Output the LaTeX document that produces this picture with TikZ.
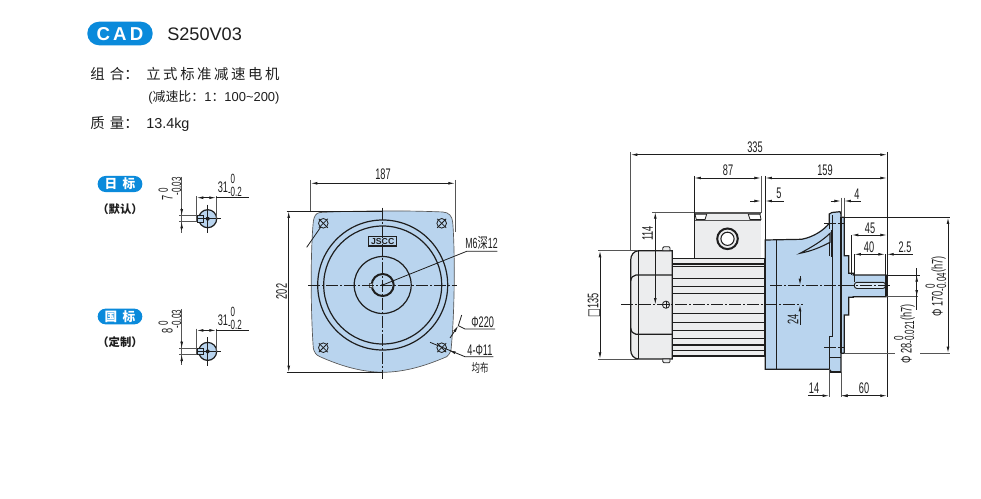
\documentclass[tikz,border=0pt]{standalone}
\usepackage{fontspec}
\usepackage{graphicx}
\usetikzlibrary{arrows.meta}
\setmainfont{Liberation Sans}
\newfontfamily\cjk[LetterSpace=18]{Noto Sans CJK SC}
\newfontfamily\cjkplain{Noto Sans CJK SC}
\newfontfamily\narrowf[FakeStretch=0.6]{Liberation Sans}
\newfontfamily\narrowcjk[FakeStretch=0.7]{Noto Sans CJK SC}
\newfontfamily\boxf[FakeStretch=0.6]{DejaVu Sans}
\newcommand\dfont{\fontsize{11.5}{12}\selectfont\narrowf}
\newcommand\tfont{\fontsize{10}{10}\selectfont\narrowf}
\newcommand\tol[4]{\raisebox{#1}{\rlap{\tfont\hspace{2pt}#3}}\raisebox{-#2}{\tfont #4}}
\definecolor{bluebadge}{HTML}{0A8ADB}
\definecolor{partblue}{HTML}{B9D4EE}
\definecolor{partgrey}{HTML}{ECEDEE}
\definecolor{ink}{HTML}{1E1E1E}
\definecolor{soft}{HTML}{555555}
\tikzset{
  lbl/.style={inner sep=0pt,font=\dfont,text=ink},
  outline/.style={draw=ink,line width=0.9pt},
  thick outline/.style={draw=ink,line width=1.1pt},
  extline/.style={draw=soft,line width=0.55pt},
  dimline/.style={draw=ink,line width=0.6pt,{Latex[length=5pt,width=2.1pt]}-{Latex[length=5pt,width=2.1pt]}},
  tipend/.style={draw=ink,line width=0.6pt,-{Latex[length=5pt,width=2.1pt]}},
  plainline/.style={draw=ink,line width=0.6pt},
  centre/.style={draw=ink,line width=0.6pt,dash pattern=on 9pt off 1.5pt on 1.5pt off 1.5pt},
  badge/.style={fill=bluebadge,rounded corners=5.8pt},
}
\begin{document}
\begin{tikzpicture}[x=0.75pt,y=-0.75pt]
\useasboundingbox (0,0) rectangle (981,499);
\fill[white] (0,0) rectangle (981,499);

% ---------- heading ----------
\fill[badge,rounded corners=8.8pt] (87.3,21.7) rectangle (152.7,45.3);
\node[inner sep=0pt,text=white,font=\fontsize{14}{15}\selectfont\bfseries] (cad) at (120,33.7) {C\,A\,D};
\node[inner sep=0pt,anchor=west,text=ink,font=\fontsize{13.6}{15}\selectfont] (model) at (167,34) {S250V03};
\node[inner sep=0pt,anchor=west,text=ink,font=\fontsize{10.8}{12}\selectfont\cjkplain] (lab1) at (90,74) {组\hspace{4pt}合：};
\node[inner sep=0pt,anchor=west,text=ink,font=\fontsize{10.8}{12}\selectfont\cjk] (val1) at (146,74) {立式标准减速电机};
\node[inner sep=0pt,anchor=base west,text=ink,font=\fontsize{9.7}{11}\selectfont] (val1b) at (148,102) {({\cjkplain 减速比：}1{\cjkplain ：}100\textasciitilde 200)};
\node[inner sep=0pt,anchor=west,text=ink,font=\fontsize{10.8}{12}\selectfont\cjkplain] (lab2) at (90,123) {质\hspace{4pt}量：};
\node[inner sep=0pt,anchor=base west,text=ink,font=\fontsize{10.8}{12}\selectfont] (val2) at (146,128.5) {13.4kg};

% ---------- badges ----------
\fill[badge] (97.7,176) rectangle (142.3,192);
\node[inner sep=0pt,text=white,font=\fontsize{9.5}{10}\selectfont\cjkplain\bfseries] (b1) at (120,184) {日\hspace{4pt}标};
\node[inner sep=0pt,text=ink,font=\fontsize{8.5}{10}\selectfont\cjkplain\bfseries] (b1a) at (120,209.5) {（默认）};
\fill[badge] (97.7,308.7) rectangle (142.3,324.3);
\node[inner sep=0pt,text=white,font=\fontsize{9.5}{10}\selectfont\cjkplain\bfseries] (b2) at (120,316.5) {国\hspace{4pt}标};
\node[inner sep=0pt,text=ink,font=\fontsize{8.5}{10}\selectfont\cjkplain\bfseries] (b2a) at (120,342.5) {（定制）};

% ---------- key views ----------
\foreach \dy/\digit/\nm in {0/7/a,132.7/8/b}{
\begin{scope}[shift={(0,\dy)}]
  \fill[partblue] (207.7,218.7) circle (9);
  \draw[outline] (207.7,218.7) circle (9);
  \fill[partblue] (197,215.7) rectangle (203,221.9);
  \draw[plainline] (197,215.7) rectangle (203,221.9);
  \fill[ink] (207.7,218.7) circle (2);
  \draw[plainline] (207.7,204.5) -- (207.7,233);
  \draw[plainline] (197,218.7) -- (221,218.7);
  \draw[extline] (196.7,196) -- (196.7,222);
  \draw[extline] (216,196) -- (216,219);
  \draw[dimline] (196.7,197.7) -- (216,197.7);
  \draw[plainline] (216,197.7) -- (249.3,197.7);
  \draw[extline] (181.7,176.7) -- (181.7,232.7);
  \draw[extline] (179,215.7) -- (197,215.7);
  \draw[extline] (179,221.7) -- (197,221.7);
  \draw[tipend] (181.7,208) -- (181.7,215.7);
  \draw[tipend] (181.7,230) -- (181.7,221.7);
  \node[lbl,anchor=base west] (w\nm) at (217.5,192.5) {31\tol{6.8pt}{3.2pt}{0}{-0.2}};
  \node[lbl,anchor=base west,rotate=90] (h\nm) at (172.5,201) {\digit\tol{3.4pt}{6.4pt}{0}{-0.03}};
\end{scope}}

% ---------- front view ----------
\draw[extline] (310.7,180) -- (310.7,212);
\draw[extline] (455,180) -- (455,232);
\path[fill=partblue,draw=soft,line width=0.5pt]
  (320,212.5) .. controls (360,210.5) and (410,210.5) .. (443,212)
  .. controls (449,212.5) and (452,216) .. (452.7,222)
  .. controls (455,250) and (455,310) .. (451,350)
  .. controls (450,353) and (449,355) .. (446.7,356.7)
  .. controls (425,366) and (405,372) .. (383,372.3)
  .. controls (361,372) and (341,366) .. (320,356.7)
  .. controls (316,355) and (314,352) .. (313.3,348)
  .. controls (310.5,310) and (310.5,250) .. (313.3,221.7)
  .. controls (314,216) and (316,213) .. (320,212.5) -- cycle;
\draw[outline] (382.7,285) circle (65);
\draw[outline] (382.7,285) circle (59);
\draw[outline] (382.7,285) circle (28.5);
\draw[draw=ink,line width=1.5pt] (382.7,285) circle (11);
\fill[partblue!80!white,draw=soft,line width=0.4pt] (369.5,283) rectangle (372,287.5);
\fill[ink] (382.7,285) circle (1.6);
\foreach \bx/\by in {323.3/223.3,441.7/223.3,323.3/347.7,441.7/347.7}{
  \draw[plainline] (\bx,\by) circle (4.8);
  \draw[plainline] (\bx-4.5,\by-4.5) -- (\bx+4.5,\by+4.5);
  \draw[plainline] (\bx-4.5,\by+4.5) -- (\bx+4.5,\by-4.5);
}
\draw[draw=ink,line width=0.8pt,fill=partblue] (368.7,236.3) rectangle (396.7,246);
\node[inner sep=0pt,text=ink,font=\fontsize{6.5}{7}\selectfont\bfseries] (logo) at (382.7,241.2) {JSCC};
\draw[centre] (308,285) -- (457,285);
\draw[centre] (382.7,207.7) -- (382.7,379);
% dims
\draw[dimline] (310.7,183.3) -- (455,183.3);
\node[lbl] (t187) at (383,174.5) {187};
\draw[draw=ink,line width=0.7pt] (286.7,211.3) -- (382,211.3);
\draw[draw=ink,line width=0.7pt] (286.7,372.3) -- (382,372.3);
\draw[dimline] (288.7,211.3) -- (288.7,372.3);
\node[lbl,rotate=90] (t202) at (281.7,291.5) {202};
% M6
\draw[plainline] (382.7,285) -- (466.7,251.3) -- (497.3,251.3);
\node[lbl,font=\fontsize{11}{12}\selectfont\narrowf] (tM6) at (481.5,243) {M6{\narrowcjk 深}12};
% phi 220
\draw[plainline] (321,226.7) -- (306.7,247.3);
\draw[plainline] (461.7,315) -- (458.3,325.7);
\draw[tipend] (450,338) -- (458.3,325.7);
\draw[plainline] (458.3,325.7) -- (465,329) -- (495,329);
\node[lbl] (t220) at (482.7,322) {Φ220};
% 4-phi11
\draw[plainline] (430,342.3) -- (465,356.7) -- (493.3,356.7);
\draw[tipend] (454,352.3) -- (449,350.3);
\node[lbl] (t11) at (480,350) {4-Φ11};
\node[inner sep=0pt,text=ink,font=\fontsize{9}{10}\selectfont\narrowcjk] (tjb) at (480,367.5) {均布};

% ---------- side view: fan cover ----------
\path[fill=partgrey,draw=ink,line width=0.9pt] (638.7,250.7) -- (672.3,250.7) -- (672.3,359) -- (638.7,359)
  .. controls (634,359) and (630.7,355) .. (630.7,350) -- (630.7,260)
  .. controls (630.7,255) and (634,250.7) .. (638.7,250.7) -- cycle;
\draw[outline] (638.7,250.7) -- (638.7,359);
\draw[outline] (672.3,275) -- (636,275) .. controls (633,275.3) and (631,277.5) .. (630.7,281);
\draw[outline] (672.3,334.3) -- (636,334.3) .. controls (633,334) and (631,331.5) .. (630.7,328);
\path[fill=partgrey,draw=ink,line width=0.6pt] (662.7,250.7) -- (662.7,248) -- (664,246.7) -- (669,246.7) -- (670,248) -- (670,250.7) -- cycle;
\path[fill=partgrey,draw=ink,line width=0.6pt] (662.7,359) -- (662.7,361.5) -- (664,362.8) -- (669,362.8) -- (670,361.5) -- (670,359) -- cycle;
% terminal box
\path[fill=partgrey] (694.3,212.5) rectangle (761,258.3);
\draw[thick outline,draw=soft] (694.3,212.8) -- (761,212.8);
\draw[plainline,line width=0.8pt] (694.3,214.3) -- (694.3,258.3);
\draw[extline] (694.3,220) -- (761,220);
\path[fill=white,draw=ink,line width=0.6pt] (695,214.3) -- (706.7,214.3) -- (705,219.5) -- (696.3,219.5) -- cycle;
\path[fill=white,draw=ink,line width=0.6pt] (748.3,214.3) -- (760,214.3) -- (761,219.5) -- (750,219.5) -- cycle;
\draw[draw=ink,line width=1.5pt] (727.5,238.8) circle (10.3);
\draw[draw=ink,line width=0.8pt,fill=white] (727.5,238.8) circle (6.6);
% motor body
\path[fill=partgrey,draw=ink,line width=0.9pt] (672.3,258.3) rectangle (765,356);
\foreach \fy in {264,266.7,278.3,286.7,293.3,313.3,322.3,330.7,338.3,345,350.7}{
  \draw[draw=ink,line width=0.85pt] (672.3,\fy) -- (765,\fy);
}
\fill[partgrey] (666,304.7) circle (3.6);
\draw[plainline] (666,301) -- (666,308.4);
\draw[plainline] (662.3,304.7) -- (669.7,304.7);
\draw[plainline] (666,304.7) circle (3.6);

% gearbox
\path[fill=partblue,draw=ink,line width=0.9pt]
  (765.3,240) -- (801.7,239.3) .. controls (813,237) and (823,231) .. (829.3,223.3)
  -- (829.3,214) -- (832,212.5) -- (840,211.7) -- (841,214) -- (841,217.3) -- (844.3,217.3) -- (844.3,255.7)
  -- (848.7,255.7) -- (848.7,273.3) -- (853.3,273.3) -- (853.3,275) -- (886,275) -- (886,296.7) -- (853.3,296.7)
  -- (853.3,297.3) -- (848.7,297.3) -- (848.7,315) -- (844.3,315) -- (844.3,353.3) -- (841,353.3) -- (841,372)
  -- (831.5,372) -- (829.3,369.3) -- (765.3,369.3) -- cycle;
\draw[draw=ink,line width=1.1pt] (776.7,240) -- (776.7,369.3);
\path[draw=ink,line width=0.8pt] (800,253.3) .. controls (812,247) and (822,241) .. (830,233.3)
  -- (830,242.3) .. controls (821,247) and (812,251) .. (800,253.3) -- cycle;
\draw[outline] (829.3,214) -- (829.3,229);
\draw[outline] (831.7,230) -- (831.7,256.7);
\draw[outline] (829.3,256) -- (829.3,243);
\draw[outline] (841,217.3) -- (841,353.3);
\draw[outline] (829.3,336.7) -- (832.3,336.7) -- (832.3,215);
\draw[outline] (830,357.3) -- (841,357.3);
\draw[outline] (829.3,336.7) -- (829.3,372);
\draw[thick outline] (829.3,372.2) -- (841,372.2);
\path[fill=partblue!60!white,draw=ink,line width=0.7pt,rounded corners=2pt] (854.3,282.3) rectangle (885.5,288.5);
\draw[draw=ink,line width=1pt] (886,275) -- (886,296.7);
% centre lines
\draw[centre,line width=0.95pt] (621,304.7) -- (803,304.7);
\draw[centre] (770,285.3) -- (891.7,285.3);
\draw[centre,line width=0.8pt] (824,223.3) -- (845,223.3);
\draw[centre,line width=0.8pt] (824,347.7) -- (845,347.7);

% ---------- side view: dimensions ----------
\draw[extline] (630.7,152) -- (630.7,251);
\draw[plainline] (887,152) -- (887,397);
\draw[dimline] (630.7,154.7) -- (887,154.7);
\node[lbl] (t335) at (755,147) {335};

\draw[plainline] (694.3,176) -- (694.3,258);
\draw[extline] (761,176) -- (761,213);
\draw[plainline,line width=0.7pt] (765.3,176) -- (765.3,240);
\draw[dimline] (694.3,178) -- (761,178);
\node[lbl] (t87) at (728,170) {87};
\draw[dimline] (765.3,178) -- (887,178);
\node[lbl] (t159) at (825,170) {159};

\draw[tipend] (750,201) -- (761,201);
\draw[tipend] (775,201) -- (765.3,201);
\draw[plainline] (771,201) -- (783.5,201);
\node[lbl] (t5) at (779,193.5) {5};

\draw[extline] (841,197.7) -- (841,217);
\draw[extline] (844.3,197.7) -- (844.3,217);
\draw[tipend] (830.7,201) -- (841,201);
\draw[tipend] (853,201) -- (844.3,201);
\draw[plainline] (850,201) -- (861,201);
\node[lbl] (t4) at (857,194.5) {4};

\draw[extline] (652,212) -- (694.3,212);
\draw[dimline] (655.3,212) -- (655.3,304.7);
\node[lbl,rotate=90] (t114) at (647.5,233.5) {114};

\draw[extline] (598,250.7) -- (638,250.7);
\draw[extline] (598,359) -- (638,359);
\draw[dimline] (600,250.7) -- (600,359);
\node[lbl,rotate=90] (t135) at (594,305) {{\boxf □}135};

\draw[tipend] (800,276) -- (800,285.3);
\draw[tipend] (800,314) -- (800,304.7);
\draw[plainline] (800,310) -- (800,325);
\node[lbl,rotate=90] (t24) at (793,319.5) {24};

\draw[plainline] (851.7,235) -- (851.7,275);
\draw[dimline] (851.7,235) -- (887,235);
\node[lbl] (t45) at (870,228.5) {45};
\draw[plainline] (854.3,254.3) -- (854.3,282);
\draw[plainline] (885,254.3) -- (885,275);
\draw[dimline] (854.3,254.3) -- (885,254.3);
\node[lbl] (t40) at (869,247) {40};
\draw[tipend] (895,254.3) -- (887,254.3);
\draw[plainline] (893,254.3) -- (912.7,254.3);
\node[lbl] (t25) at (905,247) {2.5};

\draw[plainline] (886,275) -- (920,275);
\draw[extline] (886,296.7) -- (918,296.7);
\draw[plainline] (916.7,268) -- (916.7,310);
\draw[tipend] (916.7,285) -- (916.7,275);
\draw[tipend] (916.7,288) -- (916.7,296.7);
\node[lbl,anchor=base west,rotate=90] (t28) at (911.7,364) {Φ\,28\tol{6.3pt}{1.8pt}{0}{-0.021}(h7)};

\draw[plainline] (844.3,217.3) -- (950,217.3);
\draw[extline] (844.3,353.3) -- (895,353.3);
\draw[extline] (920,353.3) -- (950,353.3);
\draw[dimline,line width=0.7pt] (948,217.3) -- (948,353.3);
\node[lbl,anchor=base west,rotate=90] (t170) at (942.7,316.7) {Φ\,170\tol{5.8pt}{2.5pt}{0}{-0.04}(h7)};

\draw[extline] (829.3,369) -- (829.3,397);
\draw[extline] (841,372) -- (841,397);
\draw[tipend] (808.3,395.7) -- (829.3,395.7);
\draw[tipend] (850,395.7) -- (841,395.7);
\node[lbl] (t14) at (814,388) {14};
\draw[dimline] (841,395.7) -- (887,395.7);
\node[lbl] (t60) at (864,388) {60};
\end{tikzpicture}
\end{document}
